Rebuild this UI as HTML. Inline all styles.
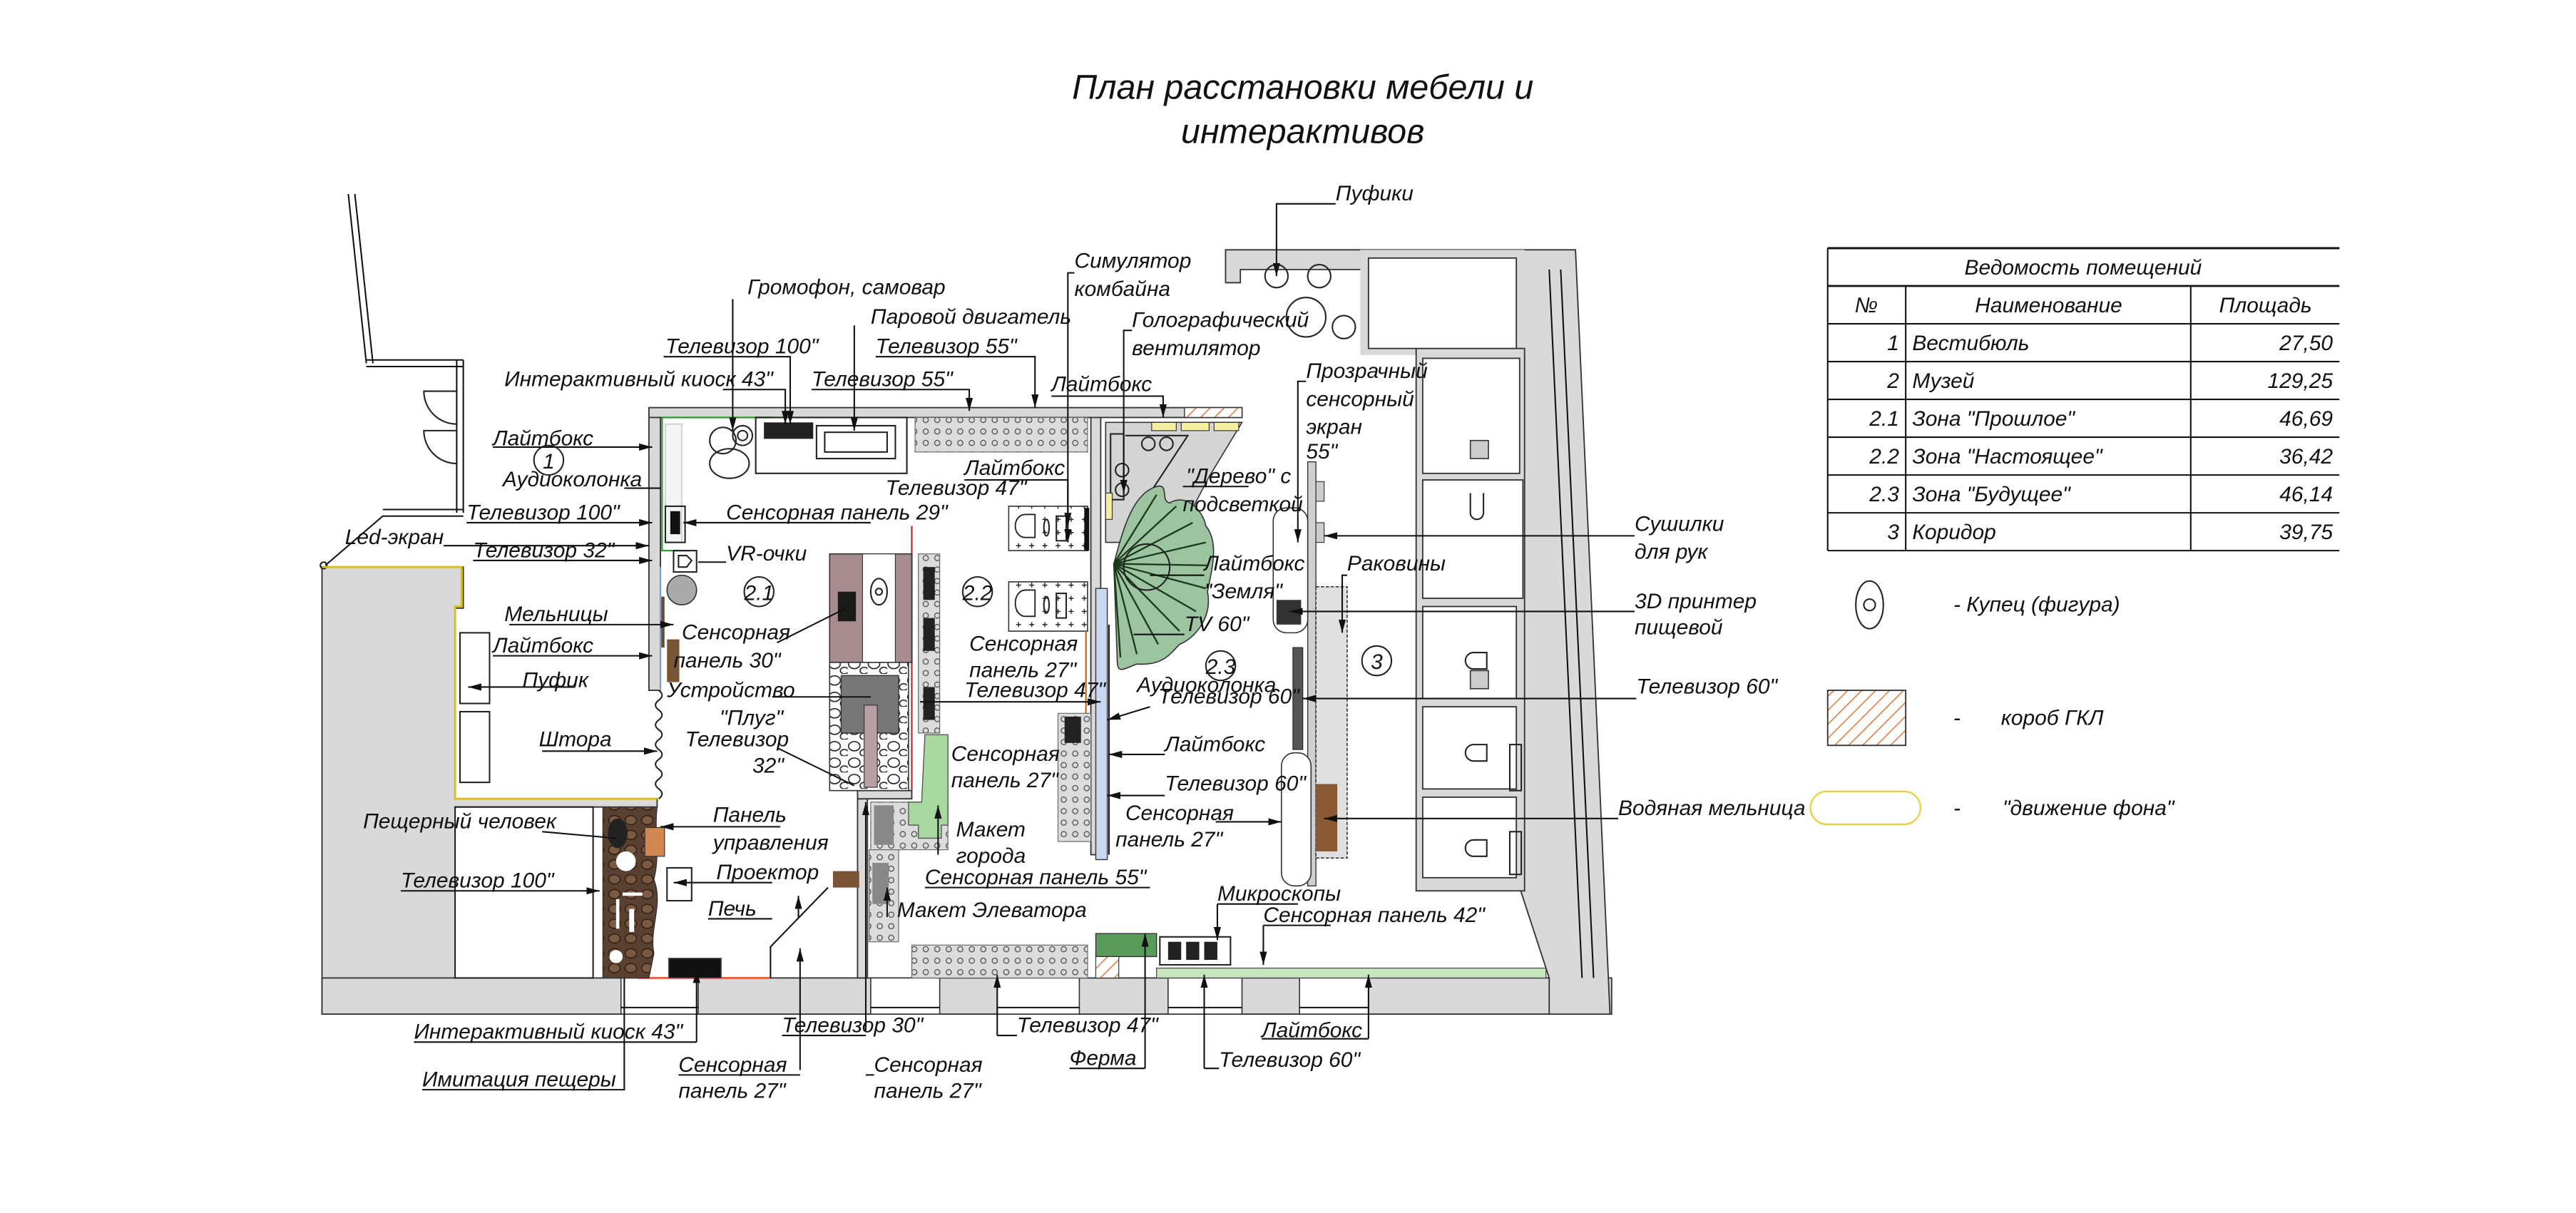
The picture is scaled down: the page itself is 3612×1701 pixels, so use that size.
<!DOCTYPE html>
<html><head><meta charset="utf-8">
<style>
html,body{margin:0;padding:0;background:#fff;}
svg{display:block;}
text{font-family:"Liberation Sans Narrow","Liberation Sans",sans-serif;font-style:italic;font-size:13px;fill:#111;}
.t{font-size:21px;}
.ln{stroke:#111;stroke-width:0.9;fill:none;}
.w{fill:#d9d9d9;stroke:#333;stroke-width:0.8;}
.o{fill:none;stroke:#222;stroke-width:0.9;}
</style></head><body>
<svg width="3612" height="1701" viewBox="0 0 1568 738" preserveAspectRatio="none" xmlns="http://www.w3.org/2000/svg">
<defs>
<marker id="a" markerWidth="8" markerHeight="6" refX="8" refY="3" orient="auto" markerUnits="userSpaceOnUse"><path d="M0,0.8 L8,3 L0,5.2z" fill="#111"/></marker>
<pattern id="dots" width="7" height="7" patternUnits="userSpaceOnUse"><rect width="7" height="7" fill="#dcdcdc"/><circle cx="3.5" cy="3.5" r="1.6" fill="none" stroke="#555" stroke-width="0.6"/></pattern>
<pattern id="stone" width="12" height="10" patternUnits="userSpaceOnUse"><rect width="12" height="10" fill="#fff"/><ellipse cx="4" cy="4" rx="3.5" ry="2.8" fill="none" stroke="#222" stroke-width="0.7"/><ellipse cx="10" cy="8" rx="2.5" ry="2" fill="none" stroke="#222" stroke-width="0.7"/></pattern>
<pattern id="cave" width="10" height="9" patternUnits="userSpaceOnUse"><rect width="10" height="9" fill="#5a4030"/><ellipse cx="4" cy="4" rx="3.5" ry="2.8" fill="#7a5a42" stroke="#2a1a10" stroke-width="0.6"/></pattern>
<pattern id="hatch" width="6" height="6" patternUnits="userSpaceOnUse" patternTransform="rotate(45)"><rect width="6" height="6" fill="#fff"/><line x1="0" y1="0" x2="0" y2="6" stroke="#e08040" stroke-width="1.4"/></pattern>
<pattern id="plus" width="8" height="8" patternUnits="userSpaceOnUse"><rect width="8" height="8" fill="#fff"/><path d="M4,2.5v3M2.5,4h3" stroke="#222" stroke-width="0.6"/></pattern>
</defs>
<rect width="1568" height="738" fill="#fff"/>

<text class="t" x="793" y="60" text-anchor="middle">План расстановки мебели и</text>
<text class="t" x="793" y="87" text-anchor="middle">интерактивов</text>

<path class="w" d="M196,345 H282 V370 H277 V486 H400 V491 H277 V595 H530 V617 H196 Z"/>
<rect x="196" y="595" width="785" height="22" class="w"/>
<path class="w" d="M746,152 H959 L980,617 H943 V595 L925,540 V212 H920 V164 H755 V172 H746 Z"/>
<rect x="828" y="152" width="100" height="64" fill="#d9d9d9"/>
<rect x="862" y="212" width="66" height="330" fill="#d9d9d9" stroke="#333" stroke-width="0.8"/>
<rect x="833" y="157" width="90" height="55" fill="#fff" stroke="#333" stroke-width="0.8"/>
<rect x="866" y="218" width="59" height="70" fill="#fff" stroke="#333" stroke-width="0.8"/>
<rect x="866" y="292" width="61" height="72" fill="#fff" stroke="#333" stroke-width="0.8"/>
<rect x="866" y="369" width="57" height="56" fill="#fff" stroke="#333" stroke-width="0.8"/>
<rect x="866" y="430" width="57" height="50" fill="#fff" stroke="#333" stroke-width="0.8"/>
<rect x="866" y="485" width="57" height="49" fill="#fff" stroke="#333" stroke-width="0.8"/>
<rect x="895" y="268" width="11" height="11" fill="#ccc" stroke="#333" stroke-width="0.7"/>
<rect x="895" y="408" width="11" height="11" fill="#ccc" stroke="#333" stroke-width="0.7"/>
<path class="o" d="M903,300 v12 a4,4 0 0 1 -8,0 v-12 M905,397 h-8 a5,5 0 0 0 0,10 h8z M905,453 h-8 a5,5 0 0 0 0,10 h8z M905,511 h-8 a5,5 0 0 0 0,10 h8z"/>
<rect x="919" y="453" width="7" height="28" class="o"/><rect x="919" y="506" width="7" height="26" class="o"/>
<line x1="943" y1="164" x2="963" y2="595" class="ln"/><line x1="950" y1="164" x2="970" y2="595" class="ln"/>
<g fill="#fff" stroke="#333" stroke-width="0.7">
<rect x="378" y="595" width="47" height="22"/><rect x="530" y="595" width="42" height="22"/><rect x="607" y="595" width="50" height="22"/><rect x="711" y="595" width="45" height="22"/><rect x="791" y="595" width="42" height="22"/>
</g>
<g class="ln"><line x1="378" y1="613" x2="425" y2="613"/><line x1="530" y1="613" x2="572" y2="613"/><line x1="607" y1="613" x2="657" y2="613"/><line x1="711" y1="613" x2="756" y2="613"/><line x1="791" y1="613" x2="833" y2="613"/></g>
<rect x="704" y="589" width="237" height="6" fill="#c8e6c0" stroke="#555" stroke-width="0.6"/>

<path d="M212,118 L223,221 M216,118 L227,221" class="ln" stroke-width="1.3"/>
<path d="M223,219 H282 M223,223 H282 M278,219 V312 M282,219 V312 M282,310 H233 M282,314 H233 L198,344" class="ln"/>
<path class="o" d="M278,238 h-20 a20,20 0 0 0 20,20 M278,262 h-20 a20,20 0 0 0 20,20"/>
<circle cx="197" cy="344" r="2" class="o"/>

<path d="M196,345 H281 V369 H277 V486 H400" fill="none" stroke="#d8c020" stroke-width="1.3"/>
<rect x="280" y="385" width="18" height="43" class="o"/><rect x="280" y="433" width="18" height="43" class="o"/>
<rect x="277" y="491" width="84" height="104" class="o"/>

<rect x="395" y="248" width="361" height="6" class="w"/>
<rect x="721" y="248" width="35" height="6" fill="url(#hatch)" stroke="#333" stroke-width="0.6"/>
<rect x="395" y="254" width="7" height="166" class="w"/>
<path d="M401,420 q4,3 0,6 q-4,3 0,6 q4,3 0,6 q-4,3 0,6 q4,3 0,6 q-4,3 0,6 q4,3 0,6 q-4,3 0,6 q4,3 0,6 q-4,3 0,6 q4,3 0,6" class="o"/>
<path d="M403,254 V335 H420 M403,254 H470" stroke="#3a9a3a" stroke-width="1" fill="none"/>
<line x1="402" y1="345" x2="402" y2="420" stroke="#7aa0d8" stroke-width="1"/>
<rect x="664" y="254" width="6" height="266" class="w"/>
<rect x="522" y="486" width="6" height="109" class="w"/>
<rect x="522" y="481" width="33" height="5" class="w"/>
<line x1="555" y1="320" x2="555" y2="481" stroke="#c03030" stroke-width="1"/>
<line x1="388" y1="595" x2="469" y2="595" stroke="#e06030" stroke-width="1.2"/>

<rect x="557" y="254" width="105" height="21" fill="url(#dots)" stroke="#666" stroke-width="0.5"/>
<rect x="460" y="254" width="92" height="34" class="o"/>
<rect x="497" y="259" width="48" height="20" class="o"/><rect x="502" y="263" width="38" height="12" class="o"/>
<rect x="465" y="257" width="30" height="10" fill="#222"/>
<circle cx="440" cy="268" r="8" class="o"/><circle cx="452" cy="265" r="6" class="o"/><circle cx="452" cy="265" r="3" class="o"/>
<ellipse cx="444" cy="282" rx="12" ry="9" class="o"/>
<rect x="405" y="258" width="10" height="72" fill="#f4f4f4" stroke="#bbb" stroke-width="0.5"/>
<rect x="405" y="308" width="12" height="22" class="o"/><rect x="408" y="311" width="6" height="14" fill="#111"/>
<rect x="410" y="335" width="14" height="13" class="o"/><path d="M413,338 h5 l3,3 l-3,4 h-5z" class="o"/>
<circle cx="415" cy="359" r="9" fill="#aaa" stroke="#333" stroke-width="0.7"/>
<rect x="402.5" y="363" width="2" height="31" fill="#6b4a30"/>
<rect x="406" y="389" width="7.5" height="26" fill="#7a5535"/>

<rect x="505" y="337" width="50" height="66" fill="#a88c90" stroke="#333" stroke-width="0.7"/>
<rect x="525" y="337" width="20" height="66" fill="#fff" stroke="#333" stroke-width="0.5"/>
<ellipse cx="535" cy="360" rx="5" ry="8" class="o"/><circle cx="535" cy="360" r="2" class="o"/>
<rect x="510" y="360" width="11" height="18" fill="#1a1a1a"/>
<rect x="505" y="403" width="48" height="78" fill="url(#stone)" stroke="#333" stroke-width="0.7"/>
<rect x="512" y="411" width="35" height="35" fill="#777" stroke="#333" stroke-width="0.6"/>
<rect x="526" y="429" width="8" height="50" fill="#b8a0a4" stroke="#333" stroke-width="0.5"/>
<rect x="559" y="337" width="13" height="109" fill="url(#dots)" stroke="#666" stroke-width="0.5"/>
<rect x="562" y="345" width="7" height="20" fill="#222"/><rect x="562" y="376" width="7" height="20" fill="#222"/><rect x="562" y="418" width="7" height="20" fill="#222"/>

<rect x="530" y="488" width="47" height="29" fill="url(#dots)" stroke="#666" stroke-width="0.5"/>
<rect x="532" y="490" width="12" height="24" fill="#888"/>
<rect x="529" y="517" width="18" height="56" fill="url(#dots)" stroke="#666" stroke-width="0.5"/>
<rect x="531" y="525" width="10" height="25" fill="#888"/>
<path d="M563,447 h14 v55 h-4 v8 h-14 v-8 h-6 v-14 h8z" fill="#a8d8a0" stroke="#555" stroke-width="0.6"/>
<rect x="555" y="575" width="107" height="20" fill="url(#dots)" stroke="#666" stroke-width="0.5"/>
<rect x="507" y="530" width="16" height="10" fill="#7a5535"/>
<path d="M469,595 V576 L504,540" class="ln"/>

<rect x="614" y="308" width="48" height="27" fill="url(#plus)" stroke="#333" stroke-width="0.7"/>
<rect x="614" y="354" width="48" height="30" fill="url(#plus)" stroke="#333" stroke-width="0.7"/>
<path d="M630,313 h-6 a6,7 0 0 0 0,14 h6z M630,359 h-6 a6,8 0 0 0 0,16 h6z" fill="#fff" stroke="#222" stroke-width="0.8"/>
<ellipse cx="637" cy="321" rx="1.6" ry="5" class="o"/><ellipse cx="637" cy="368" rx="1.6" ry="5" class="o"/>
<rect x="643" y="314" width="6" height="15" class="o"/><rect x="643" y="361" width="6" height="15" class="o"/>
<rect x="660" y="309" width="3" height="26" fill="#111"/>
<line x1="661" y1="384" x2="661" y2="490" stroke="#c07020" stroke-width="1"/>
<rect x="644" y="434" width="20" height="78" fill="url(#dots)" stroke="#666" stroke-width="0.5"/>
<rect x="648" y="436" width="10" height="16" fill="#222"/>
<rect x="667" y="358" width="7" height="165" fill="#c8d8f0" stroke="#333" stroke-width="0.6"/>
<line x1="675" y1="380" x2="675" y2="520" class="ln" stroke-width="1.5"/>

<path d="M673,257 H756 L736,290 L715,330 H673 Z" fill="#d4d4d4" stroke="#333" stroke-width="0.7"/>
<path d="M685,265 H723 L700,300" class="o" stroke="#999"/>
<circle cx="699" cy="270" r="4" class="o"/><circle cx="710" cy="270" r="4" class="o"/>
<circle cx="683" cy="286" r="4" class="o"/><circle cx="683" cy="298" r="4" class="o"/>
<rect x="676" y="264" width="8" height="40" class="o"/>
<rect x="673" y="300" width="4" height="16" fill="#f4f0a0" stroke="#333" stroke-width="0.5"/>
<rect x="701" y="257" width="15" height="5" fill="#f4f0a0" stroke="#333" stroke-width="0.5"/>
<rect x="719" y="257" width="17" height="5" fill="#f4f0a0" stroke="#333" stroke-width="0.5"/>
<rect x="739" y="257" width="15" height="5" fill="#f4f0a0" stroke="#333" stroke-width="0.5"/>
<path d="M678,343 C684,320 690,300 704,296 C712,294 706,305 712,306 C722,300 732,310 734,320 C742,330 738,345 735,360 C738,375 728,388 718,392 C712,398 708,405 692,404 C682,408 680,410 680,400 Z" fill="#9cc4a0" stroke="#333" stroke-width="0.7"/>
<g stroke="#1a3a1a" stroke-width="1">
<line x1="678" y1="343" x2="704" y2="301"/><line x1="678" y1="343" x2="716" y2="308"/><line x1="678" y1="343" x2="726" y2="318"/><line x1="678" y1="343" x2="734" y2="330"/><line x1="678" y1="343" x2="735" y2="344"/><line x1="678" y1="343" x2="734" y2="358"/><line x1="678" y1="343" x2="728" y2="372"/><line x1="678" y1="343" x2="718" y2="384"/><line x1="678" y1="343" x2="705" y2="392"/><line x1="678" y1="343" x2="692" y2="398"/><line x1="678" y1="343" x2="682" y2="400"/>
</g>
<circle cx="698" cy="345" r="14" class="o"/>

<rect x="796" y="281" width="5" height="258" fill="#d0d0d0" stroke="#333" stroke-width="0.6"/>
<rect x="801" y="293" width="5" height="12" fill="#ccc" stroke="#333" stroke-width="0.5"/><rect x="801" y="318" width="5" height="12" fill="#ccc" stroke="#333" stroke-width="0.5"/>
<rect x="775" y="309" width="21" height="76" rx="8" fill="#fff" stroke="#333" stroke-width="0.7"/>
<rect x="777" y="365" width="15" height="15" fill="#333"/>
<rect x="787" y="394" width="6" height="62" fill="#555" stroke="#222" stroke-width="0.5"/>
<rect x="780" y="458" width="18" height="81" rx="8" fill="#fff" stroke="#333" stroke-width="0.7"/>
<rect x="801" y="357" width="19" height="165" fill="#e0e0e0" stroke="#333" stroke-width="0.7" stroke-dasharray="2,1"/>
<rect x="801" y="477" width="13" height="41" fill="#8a5a35"/>
<circle cx="777" cy="168" r="7" class="o"/><circle cx="803" cy="168" r="7" class="o"/><circle cx="795" cy="193" r="12" class="o"/><circle cx="818" cy="199" r="7" class="o"/>
<rect x="667" y="568" width="37" height="14" fill="#5a9a5a" stroke="#333" stroke-width="0.6"/>
<rect x="667" y="582" width="14" height="13" fill="url(#hatch)" stroke="#333" stroke-width="0.5"/>
<rect x="706" y="570" width="43" height="17" class="o"/>
<rect x="711" y="573" width="8" height="11" fill="#222"/><rect x="722" y="573" width="8" height="11" fill="#222"/><rect x="733" y="573" width="8" height="11" fill="#222"/>

<path d="M367,491 H400 C398,505 402,520 398,535 C404,550 395,565 398,580 L395,595 H367 Z" fill="url(#cave)" stroke="#333" stroke-width="0.6"/>
<ellipse cx="376" cy="507" rx="6" ry="9" fill="#222"/>
<circle cx="381" cy="524" r="6" fill="#fff"/><circle cx="375" cy="582" r="4" fill="#fff"/>
<rect x="379" y="543" width="12" height="2" fill="#fff"/><rect x="375" y="547" width="2" height="18" fill="#fff"/><rect x="383" y="553" width="3" height="14" fill="#fff"/>
<rect x="392.5" y="503.5" width="12" height="17.5" fill="#d08850" stroke="#333" stroke-width="0.5"/>
<rect x="406" y="528" width="15" height="20" class="o"/>
<rect x="407" y="583" width="32" height="12" fill="#111" stroke="#555" stroke-width="0.6"/>

<g class="o" stroke-width="1.3"><circle cx="334" cy="280" r="9"/><circle cx="462" cy="360" r="9"/><circle cx="595" cy="360" r="9"/><circle cx="743" cy="405" r="9"/><circle cx="838" cy="402" r="9"/></g>
<g text-anchor="middle" font-size="13"><text x="334" y="285">1</text><text x="462" y="365">2.1</text><text x="595" y="365">2.2</text><text x="743" y="410">2.3</text><text x="838" y="407">3</text></g>

<g class="ln" marker-end="url(#a)">
<path d="M300,272 H397"/>
<path d="M284,318 H397"/>
<path d="M530,318 H416"/>
<path d="M270,332 H395"/>
<path d="M288,341 H397"/>
<path d="M310,380 H410"/>
<path d="M300,399 H397"/>
<path d="M350,418 H285"/>
<path d="M330,457 H400"/>
<path d="M475,503 H402"/>
<path d="M470,537 H410"/>
<path d="M244,542 H365"/>
<path d="M446,182 V262"/>
<path d="M520,198 V262"/>
<path d="M440,237 H478 V258"/>
<path d="M494,237 H590 V250"/>
<path d="M533,217 H630 V248"/>
<path d="M404,217 H481 V258"/>
<path d="M654,166 H650 V330"/>
<path d="M689,201 H684 V300"/>
<path d="M640,241 H708 V254"/>
<path d="M813,124 H777 V168"/>
<path d="M795,232 H790 V330"/>
<path d="M587,292 H650 V320"/>
<path d="M820,350 H817 V385"/>
<path d="M560,427 H670"/>
<path d="M700,430 L674,438"/>
<path d="M709,459 H675"/>
<path d="M709,484 H674"/>
<path d="M740,500 H780"/>
<path d="M995,326 H806"/>
<path d="M995,372 H785"/>
<path d="M996,425 H793"/>
<path d="M985,498 H806"/>
<path d="M424,634 V590"/>
<path d="M487,651 V577"/>
<path d="M527,627 V488"/>
<path d="M607,630 V593"/>
<path d="M697,650 V568"/>
<path d="M733,650 V593"/>
<path d="M833,632 V593"/>
<path d="M741,550 V572"/>
<path d="M769,563 V587"/>
<path d="M571,520 V490"/>
<path d="M540,558 V540"/>
<path d="M486,558 V545"/>
</g>
<g class="ln">
<path d="M380,297 H402"/>
<path d="M425,342 H442"/>
<path d="M473,391 L515,370"/>
<path d="M470,424 H530"/>
<path d="M473,455 L520,478"/>
<path d="M330,506 L375,510"/>
<path d="M431,559 H470"/>
<path d="M252,634 H424"/>
<path d="M257,663 H380 V595"/>
<path d="M413,654 H487"/>
<path d="M476,630 H527"/>
<path d="M532,654 H527"/>
<path d="M619,630 H607"/>
<path d="M651,650 H697"/>
<path d="M768,632 H833"/>
<path d="M742,650 H733"/>
<path d="M741,550 H790"/>
<path d="M769,563 H810"/>
<path d="M563,540 H700"/>
<path d="M720,296 H760"/>
<path d="M733,350 H720 L700,350"/>
<path d="M721,386 H690"/>
</g>

<text x="455" y="179">Громофон, самовар</text>
<text x="530" y="197">Паровой двигатель</text>
<text x="405" y="215">Телевизор 100"</text>
<text x="533" y="215">Телевизор 55"</text>
<text x="307" y="235">Интерактивный киоск 43"</text>
<text x="494" y="235">Телевизор 55"</text>
<text x="300" y="271">Лайтбокс</text>
<text x="306" y="296">Аудиоколонка</text>
<text x="284" y="316">Телевизор 100"</text>
<text x="442" y="316">Сенсорная панель 29"</text>
<text x="210" y="331">Led-экран</text>
<text x="288" y="339">Телевизор 32"</text>
<text x="442" y="341">VR-очки</text>
<text x="307" y="378">Мельницы</text>
<text x="300" y="397">Лайтбокс</text>
<text x="318" y="418">Пуфик</text>
<text x="328" y="454">Штора</text>
<text x="415" y="389">Сенсорная</text>
<text x="410" y="406">панель 30"</text>
<text x="406" y="424">Устройство</text>
<text x="438" y="441">"Плуг"</text>
<text x="417" y="454">Телевизор</text>
<text x="458" y="470">32"</text>
<text x="221" y="504">Пещерный человек</text>
<text x="434" y="500">Панель</text>
<text x="434" y="517">управления</text>
<text x="436" y="535">Проектор</text>
<text x="244" y="540">Телевизор 100"</text>
<text x="431" y="557">Печь</text>
<text x="582" y="509">Макет</text>
<text x="582" y="525">города</text>
<text x="563" y="538">Сенсорная панель 55"</text>
<text x="546" y="558">Макет Элеватора</text>
<text x="252" y="632">Интерактивный киоск 43"</text>
<text x="257" y="661">Имитация пещеры</text>
<text x="413" y="652">Сенсорная</text>
<text x="413" y="668">панель 27"</text>
<text x="476" y="628">Телевизор 30"</text>
<text x="532" y="652">Сенсорная</text>
<text x="532" y="668">панель 27"</text>
<text x="619" y="628">Телевизор 47"</text>
<text x="651" y="648">Ферма</text>
<text x="768" y="631">Лайтбокс</text>
<text x="742" y="649">Телевизор 60"</text>
<text x="741" y="548">Микроскопы</text>
<text x="769" y="561">Сенсорная панель 42"</text>
<text x="654" y="163">Симулятор</text>
<text x="654" y="180">комбайна</text>
<text x="689" y="199">Голографический</text>
<text x="689" y="216">вентилятор</text>
<text x="640" y="238">Лайтбокс</text>
<text x="813" y="122">Пуфики</text>
<text x="795" y="230">Прозрачный</text>
<text x="795" y="247">сенсорный</text>
<text x="795" y="264">экран</text>
<text x="795" y="279">55"</text>
<text x="587" y="289">Лайтбокс</text>
<text x="539" y="301">Телевизор 47"</text>
<text x="722" y="294">"Дерево" с</text>
<text x="720" y="311">подсветкой</text>
<text x="733" y="347">Лайтбокс</text>
<text x="733" y="364">"Земля"</text>
<text x="721" y="384">TV 60"</text>
<text x="820" y="347">Раковины</text>
<text x="590" y="396">Сенсорная</text>
<text x="590" y="412">панель 27"</text>
<text x="587" y="424">Телевизор 47"</text>
<text x="692" y="421">Аудиоколонка</text>
<text x="705" y="428">Телевизор 60"</text>
<text x="579" y="463">Сенсорная</text>
<text x="579" y="479">панель 27"</text>
<text x="709" y="457">Лайтбокс</text>
<text x="709" y="481">Телевизор 60"</text>
<text x="685" y="499">Сенсорная</text>
<text x="679" y="515">панель 27"</text>
<text x="995" y="323">Сушилки</text>
<text x="995" y="340">для рук</text>
<text x="995" y="370">3D принтер</text>
<text x="995" y="386">пищевой</text>
<text x="996" y="422">Телевизор 60"</text>
<text x="985" y="496">Водяная мельница</text>

<g class="ln">
<line x1="1112.5" y1="151" x2="1424" y2="151" stroke-width="1.3"/>
<line x1="1112.5" y1="174" x2="1424" y2="174" stroke-width="1.2"/>
<line x1="1112.5" y1="197" x2="1424" y2="197"/>
<line x1="1112.5" y1="220" x2="1424" y2="220"/>
<line x1="1112.5" y1="243" x2="1424" y2="243"/>
<line x1="1112.5" y1="266" x2="1424" y2="266"/>
<line x1="1112.5" y1="289" x2="1424" y2="289"/>
<line x1="1112.5" y1="312" x2="1424" y2="312"/>
<line x1="1112.5" y1="335" x2="1424" y2="335"/>
<line x1="1112.5" y1="151" x2="1112.5" y2="335"/>
<line x1="1160" y1="174" x2="1160" y2="335"/>
<line x1="1333.5" y1="174" x2="1333.5" y2="335"/>
</g>
<text x="1268" y="167" text-anchor="middle">Ведомость помещений</text>
<text x="1136" y="190" text-anchor="middle">№</text>
<text x="1247" y="190" text-anchor="middle">Наименование</text>
<text x="1379" y="190" text-anchor="middle">Площадь</text>
<g text-anchor="end"><text x="1156" y="213">1</text><text x="1156" y="236">2</text><text x="1156" y="259">2.1</text><text x="1156" y="282">2.2</text><text x="1156" y="305">2.3</text><text x="1156" y="328">3</text>
<text x="1420" y="213">27,50</text><text x="1420" y="236">129,25</text><text x="1420" y="259">46,69</text><text x="1420" y="282">36,42</text><text x="1420" y="305">46,14</text><text x="1420" y="328">39,75</text></g>
<text x="1164" y="213">Вестибюль</text><text x="1164" y="236">Музей</text><text x="1164" y="259">Зона "Прошлое"</text><text x="1164" y="282">Зона "Настоящее"</text><text x="1164" y="305">Зона "Будущее"</text><text x="1164" y="328">Коридор</text>

<ellipse cx="1138" cy="368" rx="8.4" ry="14.5" class="o"/><circle cx="1138" cy="368" r="3.5" class="o"/>
<text x="1189" y="372">- Купец (фигура)</text>
<rect x="1112.5" y="420" width="47.5" height="33.5" fill="url(#hatch)" stroke="#333" stroke-width="0.8"/>
<text x="1189" y="441">-</text><text x="1218" y="441">короб ГКЛ</text>
<rect x="1102" y="481.5" width="67" height="20" rx="10" fill="#fff" stroke="#e8d040" stroke-width="1"/>
<text x="1189" y="496">-</text><text x="1219" y="496">"движение фона"</text>
</svg>
</body></html>
